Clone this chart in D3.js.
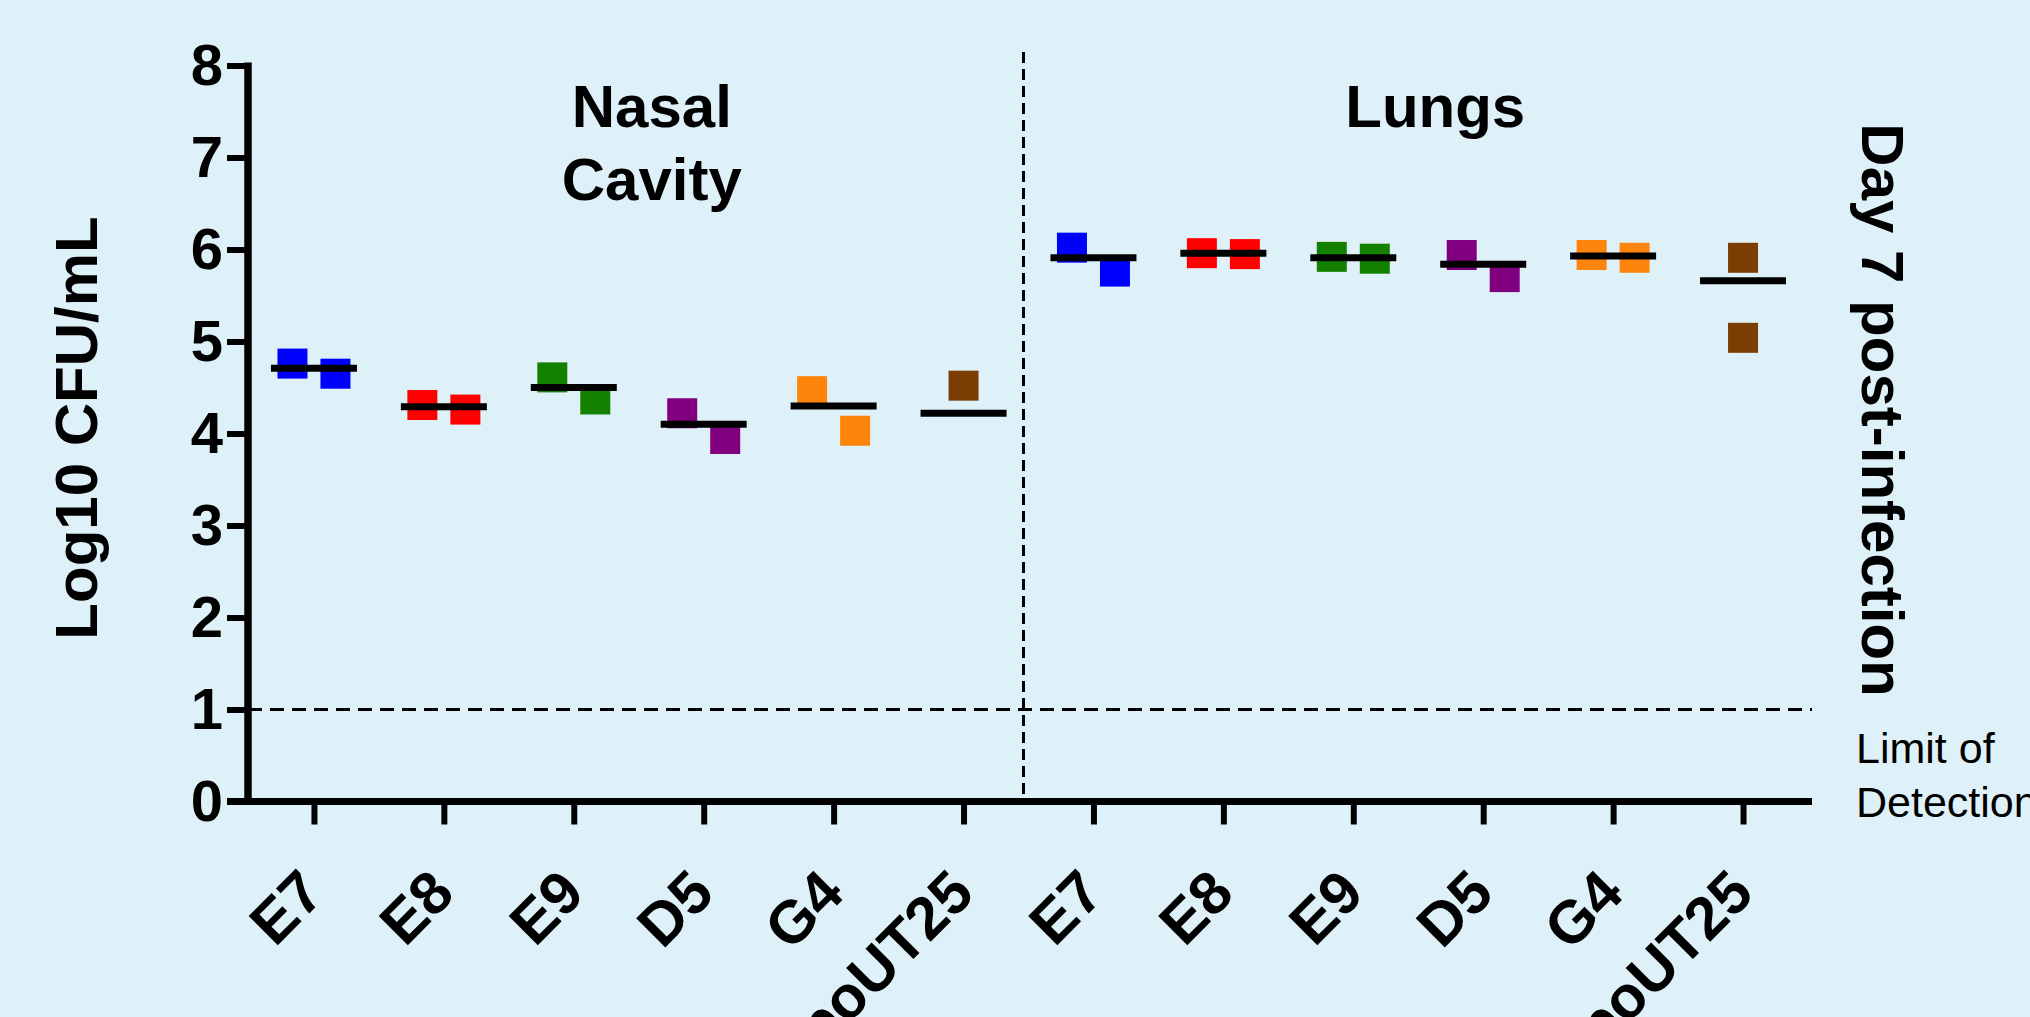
<!DOCTYPE html>
<html>
<head>
<meta charset="utf-8">
<script src="https://d3js.org/d3.v7.min.js"></script>
<style>
  html, body { margin: 0; padding: 0; background: #dff1f8; overflow: hidden; }
  svg { display: block; font-family: "Liberation Sans", Arial, Helvetica, sans-serif; }
</style>
</head>
<body>
<svg id="chart" width="2030" height="1017"></svg>
<script>
// ---- data ----
const categories = ["E7", "E8", "E9", "D5", "G4", "RpoUT25"];
const tissues = ["Nasal Cavity", "Lungs"];
const seriesColors = ["#0000ff", "#ff0000", "#138000", "#800080", "#ff840c", "#7b3d04"];
const nasalValues = [[4.76, 4.65], [4.31, 4.26], [4.61, 4.37], [4.22, 3.94], [4.46, 4.03], [4.52]];
const nasalMeans = [4.71, 4.29, 4.50, 4.10, 4.30, 4.22];
const lungValues = [[6.02, 5.76], [5.96, 5.95], [5.92, 5.90], [5.94, 5.70], [5.94, 5.91], [5.91, 5.04]];
const lungMeans = [5.91, 5.96, 5.91, 5.84, 5.93, 5.66];
const yTicks = [0, 1, 2, 3, 4, 5, 6, 7, 8];
const lodValue = 1;
const yTitle = "Log10 CFU/mL";
const rightTitle = "Day 7 post-infection";
const lodLabel = ["Limit of", "Detection"];

// ---- layout ----
const svg = d3.select("#chart");
const W = 2030, H = 1017;
const axisLeft = 248, axisRight = 1812, yTop = 65.5, yBottom = 801.5;

const keys = [];
tissues.forEach((t, ti) => categories.forEach((c, ci) => keys.push(ti + "|" + ci)));
const x = d3.scalePoint().domain(keys).range([249, 1808]).padding(0.5);
const y = d3.scaleLinear().domain([0, 8]).range([yBottom, yTop]);

const groups = [];
[nasalValues, lungValues].forEach((vals, ti) => {
  const means = ti === 0 ? nasalMeans : lungMeans;
  vals.forEach((pts, ci) => groups.push({ key: ti + "|" + ci, ti, ci, pts, mean: means[ci], color: seriesColors[ci] }));
});

const boldFont = "bold";
const g = svg.append("g");

// dashed LOD line
g.append("line")
  .attr("x1", axisLeft).attr("x2", axisRight)
  .attr("y1", y(lodValue)).attr("y2", y(lodValue))
  .attr("stroke", "#000").attr("stroke-width", 3.2)
  .attr("stroke-dasharray", "14,8");

// vertical divider between tissues
const dividerX = (x("0|5") + x("1|0")) / 2 - 5;
g.append("line")
  .attr("x1", dividerX).attr("x2", dividerX)
  .attr("y1", 52).attr("y2", yBottom)
  .attr("stroke", "#000").attr("stroke-width", 3)
  .attr("stroke-dasharray", "11,6");

// points
const sq = 30, spread = 21.5;
groups.forEach(gr => {
  const cx = x(gr.key);
  const spreadOut = gr.pts.length > 1 && Math.abs(y(gr.pts[0]) - y(gr.pts[1])) < 50;
  gr.pts.forEach((v, i) => {
    const off = spreadOut ? (i === 0 ? -spread : spread) : 0;
    g.append("rect")
      .attr("x", cx + off - sq / 2)
      .attr("y", y(v) - sq / 2)
      .attr("width", sq).attr("height", sq)
      .attr("fill", gr.color);
  });
});

// mean lines
groups.forEach(gr => {
  const cx = x(gr.key);
  g.append("line")
    .attr("x1", cx - 43).attr("x2", cx + 43)
    .attr("y1", y(gr.mean)).attr("y2", y(gr.mean))
    .attr("stroke", "#000").attr("stroke-width", 7);
});

// y axis
const yAxis = d3.axisLeft(y).tickValues(yTicks).tickFormat(d3.format("d")).tickSize(21).tickPadding(4);
const ya = svg.append("g").attr("transform", `translate(${axisLeft},0)`).call(yAxis);
ya.select(".domain").remove();
ya.selectAll(".tick line").attr("stroke", "#000").attr("stroke-width", 6);
ya.selectAll(".tick text")
  .attr("font-size", 58).attr("font-weight", boldFont).attr("fill", "#000")
  .attr("font-family", "'Liberation Sans', Arial, sans-serif");
svg.append("line")
  .attr("x1", axisLeft).attr("x2", axisLeft)
  .attr("y1", yTop - 3).attr("y2", yBottom + 3.5)
  .attr("stroke", "#000").attr("stroke-width", 7.5);

// x axis
const xAxis = d3.axisBottom(x).tickSize(23).tickFormat(() => "");
const xa = svg.append("g").attr("transform", `translate(0,${yBottom})`).call(xAxis);
xa.select(".domain").remove();
xa.selectAll(".tick line").attr("stroke", "#000").attr("stroke-width", 6);
svg.append("line")
  .attr("x1", axisLeft - 21).attr("x2", axisRight)
  .attr("y1", yBottom).attr("y2", yBottom)
  .attr("stroke", "#000").attr("stroke-width", 7);

// x tick labels
keys.forEach(k => {
  const ci = +k.split("|")[1];
  svg.append("text")
    .attr("transform", `translate(${x(k) + 13},896) rotate(-45)`)
    .attr("text-anchor", "end")
    .attr("font-size", 60).attr("font-weight", boldFont)
    .text(categories[ci]);
});

// tissue titles
const nasalCenter = (x("0|0") + x("0|5")) / 2 + 13;
const lungCenter = (x("1|0") + x("1|5")) / 2 + 17;
const tissueWords = tissues.map(t => t.split(" "));
tissueWords[0].forEach((w, i) => {
  svg.append("text").attr("x", nasalCenter).attr("y", 127 + i * 73)
    .attr("text-anchor", "middle").attr("font-size", 60).attr("font-weight", boldFont).text(w);
});
tissueWords[1].forEach((w, i) => {
  svg.append("text").attr("x", lungCenter).attr("y", 127 + i * 73)
    .attr("text-anchor", "middle").attr("font-size", 60).attr("font-weight", boldFont).text(w);
});

// y title
svg.append("text")
  .attr("transform", `translate(97,428) rotate(-90)`)
  .attr("text-anchor", "middle").attr("font-size", 60).attr("font-weight", boldFont)
  .text(yTitle);

// right title
svg.append("text")
  .attr("transform", `translate(1862,410) rotate(90)`)
  .attr("text-anchor", "middle").attr("font-size", 60).attr("font-weight", boldFont)
  .text(rightTitle);

// LOD label
lodLabel.forEach((t, i) => {
  svg.append("text").attr("x", 1856).attr("y", 763 + i * 54)
    .attr("font-size", 43).text(t);
});
</script>
</body>
</html>
